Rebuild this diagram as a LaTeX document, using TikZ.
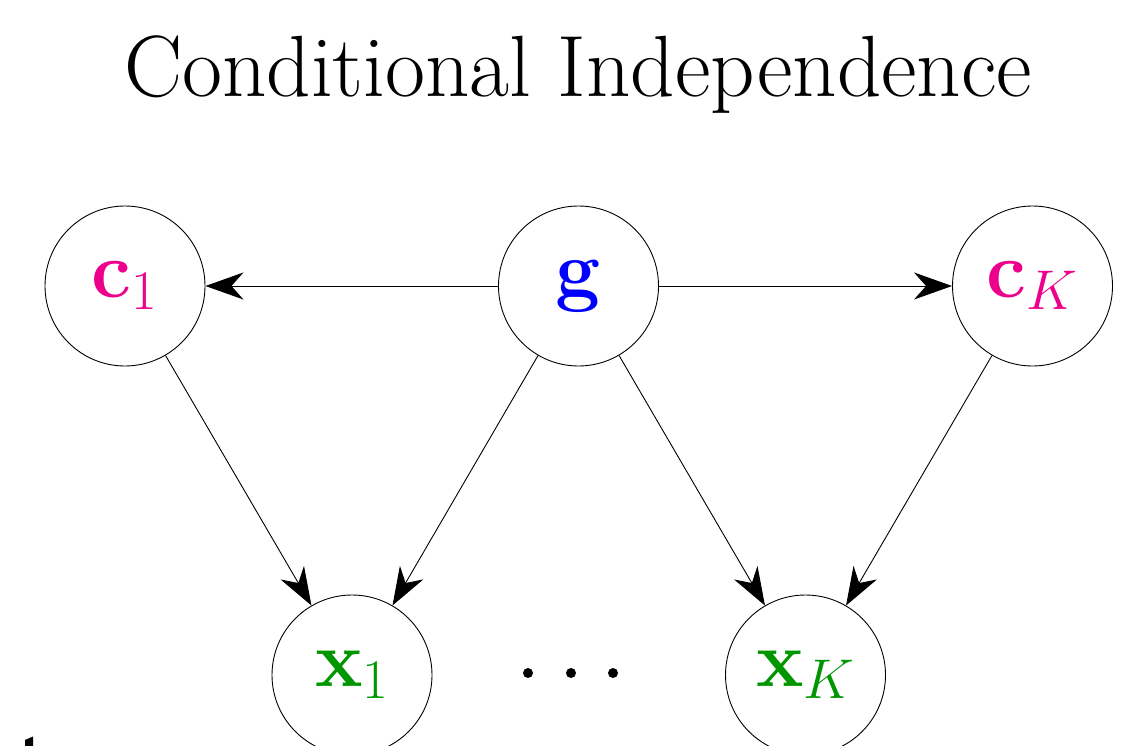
\RequirePackage{fix-cm}
\documentclass[tikz,border=0pt]{standalone}
\usetikzlibrary{arrows.meta}
\definecolor{cpink}{RGB}{236,0,140}
\definecolor{cgreen}{RGB}{0,150,0}
\definecolor{cblue}{RGB}{0,0,255}
\tikzset{
  var/.style={draw=black, line width=0.9pt, circle, minimum size=160pt, inner sep=0pt,
              font=\fontsize{80}{82}\selectfont},
  edge/.style={line width=0.9pt, -{Stealth[length=38pt,width=27pt,inset=12pt]}},
  dotmark/.style={fill=black, draw=none}
}
\begin{document}
\begin{tikzpicture}[x=1pt,y=-1pt]
\useasboundingbox (0,0) rectangle (1134,746);
\node[anchor=base, inner sep=0pt, font=\fontsize{87}{92}\selectfont] (title) at (578,97) {Conditional Independence};
\node[var] (c1) at (125,286) {$\color{cpink}\mathbf{c}_1$};
\node[var] (g)  at (578.5,286) {$\color{cblue}\mathbf{g}$};
\node[var] (cK) at (1032.5,286) {$\color{cpink}\mathbf{c}_K$};
\node[var] (x1) at (352,675) {$\color{cgreen}\mathbf{x}_1$};
\node[var] (xK) at (805.5,675) {$\color{cgreen}\mathbf{x}_K$};
\draw[edge] (g) -- (c1);
\draw[edge] (g) -- (cK);
\draw[edge] (c1) -- (x1);
\draw[edge] (g) -- (x1);
\draw[edge] (g) -- (xK);
\draw[edge] (cK) -- (xK);
\fill[dotmark] (528,673) circle (5);
\fill[dotmark] (571,673) circle (5);
\fill[dotmark] (613,673) circle (5);
\fill[black] (25,740) -- (33,736.5) -- (33,746) -- (25,746) -- cycle;
\end{tikzpicture}
\end{document}
